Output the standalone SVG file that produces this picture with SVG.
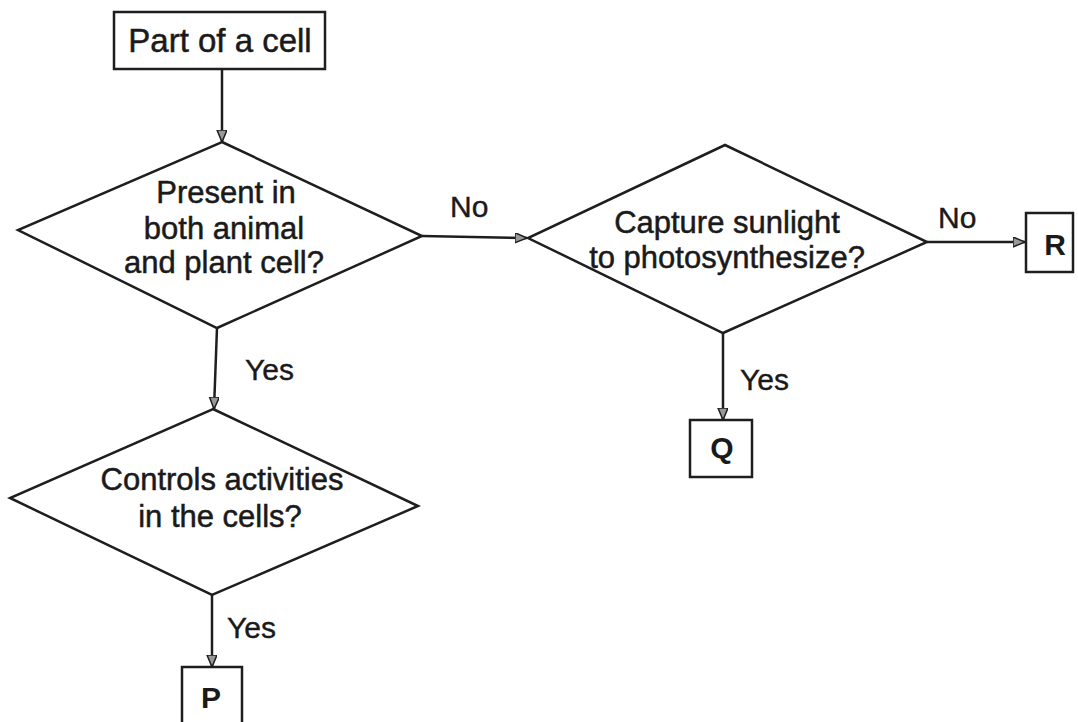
<svg xmlns="http://www.w3.org/2000/svg" width="1078" height="722" viewBox="0 0 1078 722">
<style>
.shape{fill:#fff;stroke:#1e1e1e;stroke-width:2.5;stroke-linejoin:miter}
.conn{fill:none;stroke:#1e1e1e;stroke-width:2.5}
.t{font-family:"Liberation Sans",Arial,sans-serif;font-size:31px;fill:#1a1a1a;stroke:#1a1a1a;stroke-width:0.5;text-anchor:middle}
.lbl{font-family:"Liberation Sans",Arial,sans-serif;font-size:30px;fill:#1a1a1a;stroke:#1a1a1a;stroke-width:0.4}
.b{font-family:"Liberation Sans",Arial,sans-serif;font-size:30px;font-weight:bold;fill:#1a1a1a;text-anchor:middle}
</style>
<defs>
<marker id="arr" markerUnits="userSpaceOnUse" markerWidth="14" markerHeight="12" refX="12" refY="5" orient="auto">
<path d="M0,0 L12,5 L0,10 z" fill="#999" stroke="#1e1e1e" stroke-width="1.5"/>
</marker>
</defs>
<rect width="1078" height="722" fill="#fff"/>
<g id="connectors">
<path class="conn" d="M222,69 L222,142" marker-end="url(#arr)"/>
<path class="conn" d="M217,328 L214,409" marker-end="url(#arr)"/>
<path class="conn" d="M212,595 L212,667" marker-end="url(#arr)"/>
<path class="conn" d="M422,236 L527,238" marker-end="url(#arr)"/>
<path class="conn" d="M927,242 L1025,242" marker-end="url(#arr)"/>
<path class="conn" d="M723,333 L723,420" marker-end="url(#arr)"/>
<text class="lbl" x="245" y="380">Yes</text>
<text class="lbl" x="227" y="638">Yes</text>
<text class="lbl" x="740" y="390">Yes</text>
<text class="lbl" x="450" y="217">No</text>
<text class="lbl" x="938" y="228">No</text>
</g>
<g id="start">
<rect class="shape" x="114" y="12" width="211" height="57"/>
<text class="t" x="220" y="52" style="font-size:33px">Part of a cell</text>
</g>
<g id="d1">
<path class="shape" d="M222,142 L422,236 L217,328 L18,230 Z"/>
<text class="t" x="226" y="203">Present in</text>
<text class="t" x="224" y="239">both animal</text>
<text class="t" x="224" y="273">and plant cell?</text>
</g>
<g id="d2">
<path class="shape" d="M213,409 L418,506 L212,595 L10,498 Z"/>
<text class="t" x="222" y="490">Controls activities</text>
<text class="t" x="220" y="527">in the cells?</text>
</g>
<g id="d3">
<path class="shape" d="M725,145 L927,242 L723,333 L528,238 Z"/>
<text class="t" x="727" y="233">Capture sunlight</text>
<text class="t" x="727" y="268">to photosynthesize?</text>
</g>
<g id="P">
<rect class="shape" x="182" y="667" width="60" height="64"/>
<text class="b" x="211" y="708">P</text>
</g>
<g id="Q">
<rect class="shape" x="690" y="420" width="62" height="57"/>
<text class="b" x="722" y="458">Q</text>
</g>
<g id="R">
<rect class="shape" x="1026" y="213" width="47" height="59"/>
<text class="b" x="1055" y="255">R</text>
</g>
</svg>
